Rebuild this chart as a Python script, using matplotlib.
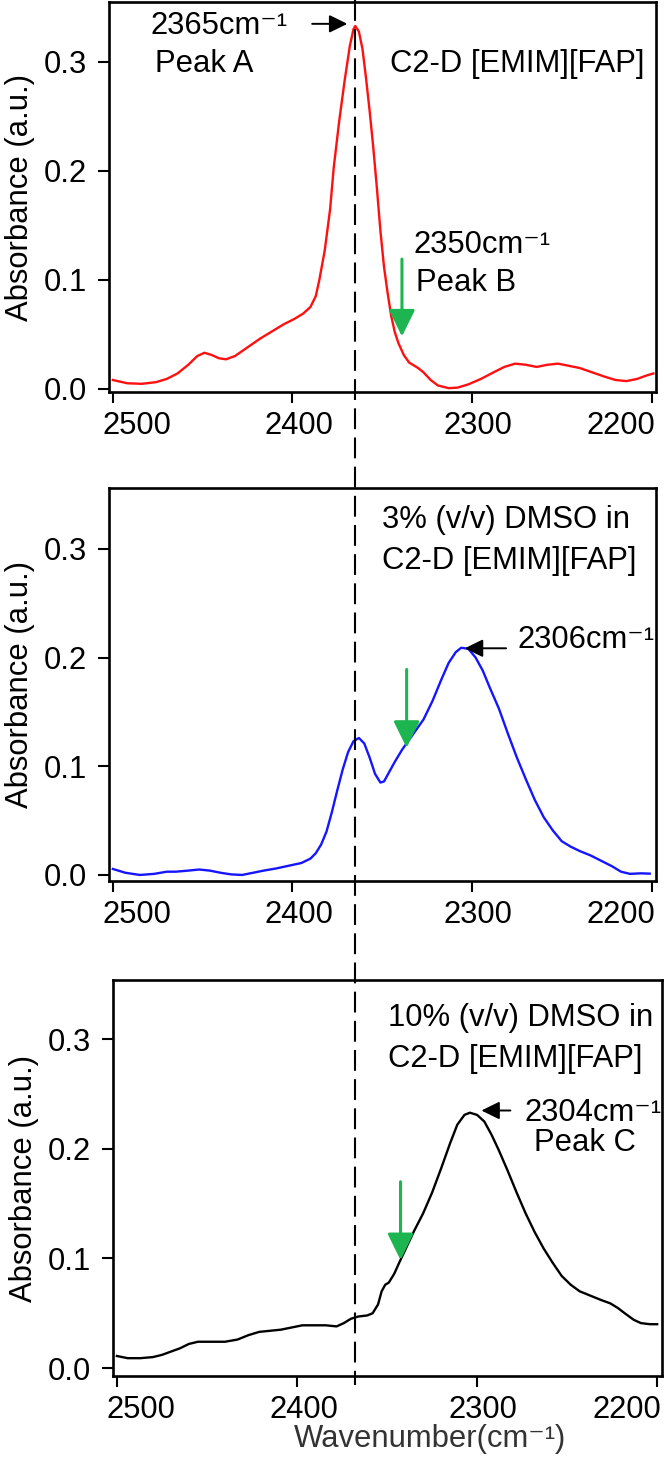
import matplotlib
matplotlib.use('Agg')
import matplotlib.pyplot as plt
from matplotlib.lines import Line2D
from matplotlib.transforms import ScaledTranslation, blended_transform_factory

plt.rcParams['font.family'] = ['Liberation Sans', 'DejaVu Sans']

# spectrum of neat C2-D [EMIM][FAP]
wn_a = [2500, 2492, 2484, 2476, 2470, 2464, 2458, 2453, 2449, 2445, 2441, 2437, 2432, 2425,
        2418, 2411, 2405, 2399, 2394, 2390, 2387, 2385, 2382, 2379, 2377, 2374, 2371, 2368,
        2366, 2365, 2363, 2361, 2359, 2357, 2355, 2353, 2351, 2349, 2347, 2345, 2343, 2341,
        2338, 2335, 2330, 2327, 2323, 2319, 2313, 2308, 2302, 2295, 2288, 2282, 2276, 2270,
        2264, 2258, 2252, 2246, 2240, 2233, 2226, 2220, 2214, 2208, 2203, 2199]
abs_a = [0.008, 0.005, 0.0045, 0.006, 0.009, 0.014, 0.022, 0.030, 0.033, 0.031, 0.028, 0.027,
         0.030, 0.038, 0.046, 0.053, 0.059, 0.064, 0.069, 0.075, 0.085, 0.100, 0.127, 0.165,
         0.203, 0.245, 0.282, 0.315, 0.330, 0.333, 0.328, 0.312, 0.285, 0.255, 0.222, 0.185,
         0.145, 0.112, 0.088, 0.067, 0.052, 0.042, 0.031, 0.024, 0.019, 0.015, 0.008, 0.003,
         0.0005, 0.001, 0.004, 0.009, 0.015, 0.020, 0.023, 0.022, 0.020, 0.022, 0.023, 0.021,
         0.019, 0.015, 0.011, 0.008, 0.007, 0.009, 0.012, 0.014]

# 3% (v/v) DMSO
wn_b = [2500, 2493, 2485, 2477, 2470, 2465, 2458, 2452, 2446, 2440, 2434, 2428, 2422, 2416,
        2409, 2402, 2395, 2390, 2387, 2384, 2381, 2378, 2375, 2372, 2369, 2366, 2363, 2360,
        2357, 2354, 2351, 2349, 2346, 2343, 2339, 2333, 2327, 2322, 2317, 2313, 2309, 2306,
        2302, 2298, 2294, 2290, 2285, 2280, 2275, 2270, 2265, 2260, 2255, 2250, 2245, 2240,
        2234, 2228, 2222, 2217, 2212, 2206, 2201]
abs_b = [0.0055, 0.002, 0.0, 0.001, 0.003, 0.003, 0.004, 0.005, 0.004, 0.002, 0.0005, 0.0,
         0.002, 0.004, 0.006, 0.0085, 0.011, 0.015, 0.020, 0.028, 0.040, 0.058, 0.078, 0.097,
         0.113, 0.123, 0.126, 0.121, 0.108, 0.093, 0.085, 0.086, 0.095, 0.104, 0.115, 0.129,
         0.143, 0.160, 0.180, 0.195, 0.205, 0.209, 0.208, 0.200, 0.188, 0.172, 0.153, 0.130,
         0.108, 0.088, 0.069, 0.053, 0.041, 0.031, 0.026, 0.022, 0.018, 0.013, 0.008, 0.003,
         0.001, 0.0015, 0.0012]

# 10% (v/v) DMSO
wn_c = [2500, 2494, 2487, 2480, 2475, 2470, 2465, 2460, 2455, 2448, 2440, 2433, 2427, 2421,
        2415, 2409, 2403, 2397, 2390, 2384, 2378, 2374, 2370, 2366, 2361, 2358, 2355, 2353,
        2351, 2349, 2346, 2343, 2339, 2335, 2330, 2325, 2320, 2315, 2311, 2307, 2304, 2300,
        2296, 2292, 2288, 2283, 2278, 2273, 2268, 2263, 2258, 2253, 2248, 2243, 2237, 2231,
        2226, 2222, 2218, 2213, 2209, 2204, 2200]
abs_c = [0.011, 0.009, 0.009, 0.010, 0.012, 0.015, 0.018, 0.022, 0.024, 0.024, 0.024, 0.026,
         0.030, 0.033, 0.034, 0.035, 0.037, 0.039, 0.039, 0.039, 0.038, 0.041, 0.045, 0.047,
         0.048, 0.050, 0.058, 0.070, 0.076, 0.078, 0.086, 0.097, 0.111, 0.125, 0.141, 0.160,
         0.182, 0.205, 0.222, 0.231, 0.233, 0.231, 0.225, 0.213, 0.199, 0.180, 0.160, 0.141,
         0.124, 0.109, 0.096, 0.084, 0.076, 0.070, 0.066, 0.062, 0.059, 0.055, 0.050, 0.044,
         0.041, 0.040, 0.040]

xticks = [2500, 2400, 2300, 2200]
yticks = [0.0, 0.1, 0.2, 0.3]
ytick_labels = ['0.0', '0.1', '0.2', '0.3']

green = '#1db54f'
fs = 22.3
sup = 'cm⁻¹'

fig = plt.figure(figsize=(6.66, 14.67), dpi=100)
ax1 = fig.add_axes([0.1641, 0.7328, 0.8209, 0.2658])
ax2 = fig.add_axes([0.1641, 0.3995, 0.8209, 0.2679])
ax3 = fig.add_axes([0.1701, 0.0620, 0.8234, 0.2699])

ax1.plot(wn_a, abs_a, color='#ff1010', lw=1.7)
ax2.plot(wn_b, abs_b, color='#1515ff', lw=1.7)
ax3.plot(wn_c, abs_c, color='black', lw=1.7)

ylims = [(-0.003, 0.355), (-0.0055, 0.356), (-0.0073, 0.354)]
for ax, yl in zip([ax1, ax2, ax3], ylims):
    ax.set_xlim(2502, 2197.5)
    ax.set_ylim(*yl)
    ax.set_xticks(xticks, [str(t) for t in xticks])
    ax.set_yticks(yticks, ytick_labels)
    for s in ax.spines.values():
        s.set_linewidth(1.9)
    ax.tick_params(direction='out', length=8, width=1.5, labelsize=fs)
    ax.tick_params(axis='y', pad=8)
    ax.tick_params(axis='x', pad=6)
    ax.set_ylabel('Absorbance (a.u.)', fontsize=fs)
    ax.yaxis.set_label_coords(-0.135, 0.5)

ax3.set_xlabel('Wavenumber(' + sup + ')', fontsize=fs, color='#333333')
ax3.xaxis.set_label_coords(0.578, -0.122)

# panel 1 annotations
ax1.text(2479, 0.3256, '2365' + sup, fontsize=fs)
ax1.text(2476.4, 0.2906, 'Peak A', fontsize=fs)
ax1.text(2345.6, 0.291, 'C2-D [EMIM][FAP]', fontsize=fs)
ax1.text(2332.6, 0.125, '2350' + sup, fontsize=fs)
ax1.text(2331.4, 0.090, 'Peak B', fontsize=fs)
ax1.annotate('', xy=(2369.4, 0.335), xytext=(2389, 0.335),
             arrowprops=dict(arrowstyle='-|>,head_length=0.55,head_width=0.27',
                             color='black', lw=1.4, mutation_scale=20, shrinkA=0, shrinkB=0))
ax1.annotate('', xy=(2339, 0.048), xytext=(2339, 0.119),
             arrowprops=dict(arrowstyle='-|>,head_length=0.65,head_width=0.32',
                             color=green, lw=2.2, mutation_scale=25, shrinkA=0, shrinkB=0))

# panel 2 annotations
ax2.text(2349.9, 0.3195, '3% (v/v) DMSO in', fontsize=fs)
ax2.text(2349.9, 0.2815, 'C2-D [EMIM][FAP]', fontsize=fs)
ax2.text(2274.5, 0.2085, '2306' + sup, fontsize=fs)
ax2.annotate('', xy=(2304, 0.2085), xytext=(2281, 0.2085),
             arrowprops=dict(arrowstyle='-|>,head_length=0.55,head_width=0.27',
                             color='black', lw=1.4, mutation_scale=20, shrinkA=0, shrinkB=0))
ax2.annotate('', xy=(2336.4, 0.117), xytext=(2336.4, 0.189),
             arrowprops=dict(arrowstyle='-|>,head_length=0.65,head_width=0.32',
                             color=green, lw=2.2, mutation_scale=25, shrinkA=0, shrinkB=0))

# panel 3 annotations
ax3.text(2349.5, 0.312, '10% (v/v) DMSO in', fontsize=fs)
ax3.text(2349.5, 0.2748, 'C2-D [EMIM][FAP]', fontsize=fs)
ax3.text(2273.5, 0.2258, '2304' + sup, fontsize=fs)
ax3.text(2268.5, 0.198, 'Peak C', fontsize=fs)
ax3.annotate('', xy=(2297.6, 0.235), xytext=(2281.5, 0.235),
             arrowprops=dict(arrowstyle='-|>,head_length=0.55,head_width=0.27',
                             color='black', lw=1.4, mutation_scale=20, shrinkA=0, shrinkB=0))
ax3.annotate('', xy=(2342.5, 0.0985), xytext=(2342.5, 0.170),
             arrowprops=dict(arrowstyle='-|>,head_length=0.65,head_width=0.32',
                             color=green, lw=2.2, mutation_scale=25, shrinkA=0, shrinkB=0))

# dashed line at 2365 through all panels
trans = blended_transform_factory(ax1.transData, fig.transFigure)
fig.add_artist(Line2D([2365, 2365], [1.0, 0.056], transform=trans, color='black',
                      lw=1.5, dashes=(10, 4)))

# shift x tick labels like in the original
xshift = [17, 5, 4, -22]
for ax in [ax1, ax2, ax3]:
    for lab, dx in zip(ax.get_xticklabels(), xshift):
        lab.set_transform(lab.get_transform() + ScaledTranslation(dx / 72, 0, fig.dpi_scale_trans))

plt.savefig('out.png', dpi=100)
